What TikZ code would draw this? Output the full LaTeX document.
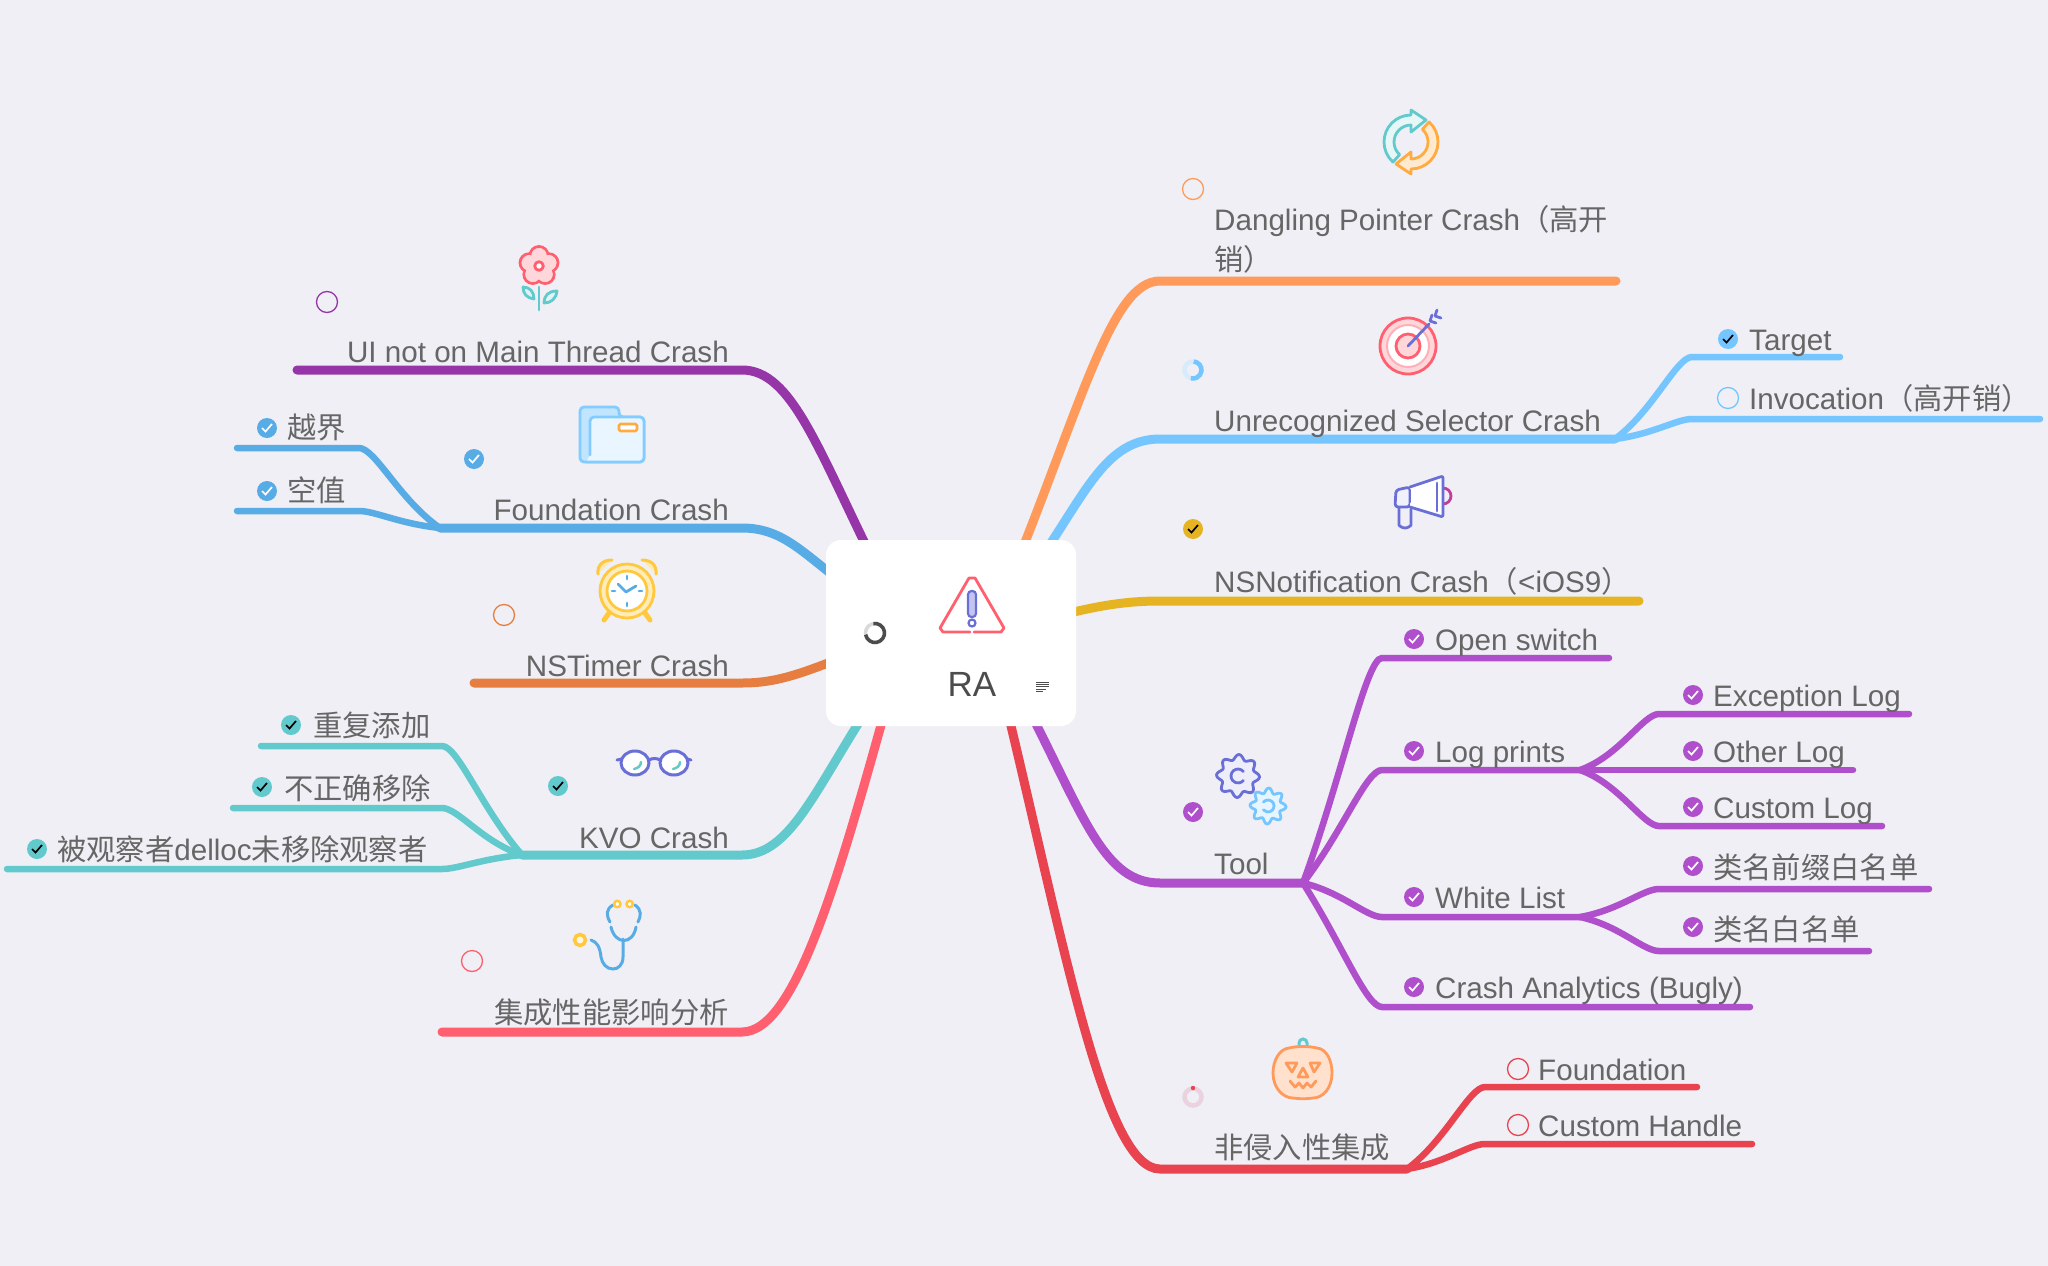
\documentclass[tikz,border=0pt]{standalone}
\usepackage{fontspec}
\setmainfont{Liberation Sans}
\newfontfamily\cjk[Scale=0.99]{Noto Sans CJK SC}
\usetikzlibrary{calc}
\definecolor{bgc}{HTML}{EFEFF5}
\definecolor{txt}{HTML}{666666}
\definecolor{cOr}{HTML}{FF9A5A}
\definecolor{cSky}{HTML}{75C6FF}
\definecolor{cYe}{HTML}{E6B422}
\definecolor{cTo}{HTML}{B04FCB}
\definecolor{cRe}{HTML}{E8434F}
\definecolor{cPu}{HTML}{9535A8}
\definecolor{cBl}{HTML}{58ACE6}
\definecolor{cOd}{HTML}{E67E42}
\definecolor{cTe}{HTML}{62C9CC}
\definecolor{cCo}{HTML}{FF5F6E}
\definecolor{ind}{HTML}{6A6FD8}
\definecolor{amb}{HTML}{FFAB40}
\definecolor{gol}{HTML}{FFC83D}
\definecolor{skytr}{HTML}{D6EBFB}
\definecolor{redtr}{HTML}{EAD3DE}
\tikzset{
  x=1pt,y=-1pt,
  mainbr/.style={line width=9pt,line cap=round,#1},
  subbr/.style={line width=6.5pt,line cap=round,#1},
  lbl/.style={inner sep=0pt,anchor=base west,text=txt,font=\fontsize{29.6}{40}\selectfont},
  lblr/.style={lbl,anchor=base east},
  icon/.style={line width=2.8pt,line cap=round,line join=round},
}
\newcommand{\fan}[5]{\draw[subbr=#1] let \p1=(#2),\p2=(#3) in (\p1) .. controls ({.5*\x1+.5*\x2},{(1-#5)*\y1+#5*\y2}) and ({.2*\x1+.8*\x2},\y2) .. (\p2) -- (#4);}
\newcommand{\mmcheck}[4]{\fill[#3] (#1,#2) circle[radius=10pt];\draw[#4,line width=1.7pt] (#1-5,#2) -- (#1-1.5,#2+3.5) -- (#1+5,#2-4);}
\newcommand{\mmcirc}[3]{\draw[#3,line width=1.3pt] (#1,#2) circle[radius=10.5pt];}
\begin{document}
\begin{tikzpicture}
\useasboundingbox (0,0) rectangle (2048,1266);
\fill[bgc] (0,0) rectangle (2048,1266);
% ---- attachment points
\coordinate (sO) at (1010,580); \coordinate (kO) at (1160,281); \coordinate (eO) at (1616,281);
\coordinate (sS) at (1036,565); \coordinate (kS) at (1160,439); \coordinate (eS) at (1615,439);
\coordinate (sY) at (1050,618); \coordinate (kY) at (1160,601); \coordinate (eY) at (1639,601);
\coordinate (sT) at (1030,712); \coordinate (kT) at (1160,883); \coordinate (eT) at (1303,883);
\coordinate (sR) at (1006,705); \coordinate (kR) at (1160,1169); \coordinate (eR) at (1407,1169);
\coordinate (sP) at (878,570); \coordinate (kP) at (742,370); \coordinate (eP) at (297,370);
\coordinate (sB) at (850,588); \coordinate (kB) at (742,528); \coordinate (eB) at (440,528);
\coordinate (sD) at (860,650); \coordinate (kD) at (742,683); \coordinate (eD) at (474,683);
\coordinate (sE) at (870,705); \coordinate (kE) at (742,855); \coordinate (eE) at (522,855);
\coordinate (sC) at (888,700); \coordinate (kC) at (742,1032); \coordinate (eC) at (442,1032);
% ---- main branches
\draw[mainbr=cOr] (sO) .. controls (1083,400) and (1112,281) .. (kO) -- (eO);
\draw[mainbr=cSky] (sS) .. controls (1085,495) and (1105,439) .. (kS) -- (eS);
\draw[mainbr=cYe] (sY) .. controls (1095,606) and (1125,601) .. (kY) -- (eY);
\draw[mainbr=cTo] (sT) .. controls (1085,820) and (1105,883) .. (kT) -- (eT);
\draw[mainbr=cRe] (sR) .. controls (1065,950) and (1105,1169) .. (kR) -- (eR);
\draw[mainbr=cPu] (sP) .. controls (818,450) and (792,370) .. (kP) -- (eP);
\draw[mainbr=cBl] (sB) .. controls (805,556) and (785,528) .. (kB) -- (eB);
\draw[mainbr=cOd] (sD) .. controls (800,675) and (775,683) .. (kD) -- (eD);
\draw[mainbr=cTe] (sE) .. controls (815,790) and (790,855) .. (kE) -- (eE);
\draw[mainbr=cCo] (sC) .. controls (838,880) and (795,1032) .. (kC) -- (eC);
% ---- sub branches
\coordinate (k1) at (1692,357); \coordinate (e1) at (1840,357);
\coordinate (k2) at (1692,419); \coordinate (e2) at (2040,419);
\fan{cSky}{eS}{k1}{e1}{.35}\fan{cSky}{eS}{k2}{e2}{.25}
\coordinate (k3) at (1382,658); \coordinate (e3) at (1609,658);
\coordinate (k4) at (1382,770); \coordinate (e4) at (1580,770);
\coordinate (k5) at (1382,917); \coordinate (e5) at (1580,917);
\coordinate (k6) at (1382,1007); \coordinate (e6) at (1750,1007);
\fan{cTo}{eT}{k3}{e3}{.48}\fan{cTo}{eT}{k4}{e4}{.45}\fan{cTo}{eT}{k5}{e5}{.28}\fan{cTo}{eT}{k6}{e6}{.5}
\coordinate (k7) at (1659,714); \coordinate (e7) at (1909,714);
\coordinate (k8) at (1659,770); \coordinate (e8) at (1853,770);
\coordinate (k9) at (1659,826); \coordinate (e9) at (1882,826);
\fan{cTo}{e4}{k7}{e7}{.25}\fan{cTo}{e4}{k8}{e8}{.25}\fan{cTo}{e4}{k9}{e9}{.25}
\coordinate (k10) at (1659,889); \coordinate (e10) at (1929,889);
\coordinate (k11) at (1659,951); \coordinate (e11) at (1869,951);
\fan{cTo}{e5}{k10}{e10}{.25}\fan{cTo}{e5}{k11}{e11}{.25}
\coordinate (k12) at (1485,1087); \coordinate (e12) at (1697,1087);
\coordinate (k13) at (1485,1144); \coordinate (e13) at (1752,1144);
\fan{cRe}{eR}{k12}{e12}{.35}\fan{cRe}{eR}{k13}{e13}{.25}
\coordinate (k14) at (359,448); \coordinate (e14) at (237,448);
\coordinate (k15) at (359,511); \coordinate (e15) at (237,511);
\fan{cBl}{eB}{k14}{e14}{.35}\fan{cBl}{eB}{k15}{e15}{.25}
\coordinate (k16) at (442,746); \coordinate (e16) at (261,746);
\coordinate (k17) at (442,808); \coordinate (e17) at (233,808);
\coordinate (k18) at (442,869); \coordinate (e18) at (7,869);
\fan{cTe}{eE}{k16}{e16}{.42}\fan{cTe}{eE}{k17}{e17}{.28}\fan{cTe}{eE}{k18}{e18}{.25}
% ---- root
\node[fill=white,rounded corners=15pt,minimum width=250pt,minimum height=186pt,inner sep=0pt] (root) at (951,633) {};
\node[inner sep=0pt,anchor=base,text=black!70,font=\fontsize{35}{35}\selectfont] (rootl) at (972,696) {RA};
% warning icon
\draw[cCo,icon] (970,632) -- (943,632) -- (940,628) -- (969,578) -- (975,578) -- (1004,628) -- (1001,632) -- (974,632);
\draw[ind,fill=ind!40,line width=2.2pt,rounded corners=3.5pt] (968,591) rectangle (976,617);
\draw[ind,line width=2.2pt] (972,623) circle[radius=3.5pt];
% progress + notes
\draw[black!15,line width=3.5pt] (875,633) circle[radius=9.5pt];
\draw[black!70,line width=3.5pt] (875,633) ++(100:9.5pt) arc[start angle=100,end angle=-170,radius=9.5pt];
\foreach \yy/\xx in {682/1049,684.3/1049,686.6/1049,689/1046,691.3/1043}{\draw[black!70,line width=.9pt] (1036,\yy) -- (\xx,\yy);}
% ---- labels
\node[lbl,align=left] (tO) at (1214,270) {Dangling Pointer Crash{\cjk （高开}\\{\cjk 销）}};
\node[lbl] (tS) at (1214,431) {Unrecognized Selector Crash};
\node[lbl] (tY) at (1214,592) {NSNotification Crash{\cjk （}<iOS9{\cjk ）}};
\node[lbl] (tT) at (1214,874) {Tool};
\node[lbl] (tR) at (1214,1158) {\cjk 非侵入性集成};
\node[lbl] (t1) at (1749,350) {Target};
\node[lbl] (t2) at (1749,409) {Invocation{\cjk （高开销）}};
\node[lbl] (t3) at (1435,650) {Open switch};
\node[lbl] (t4) at (1435,762) {Log prints};
\node[lbl] (t5) at (1435,908) {White List};
\node[lbl] (t6) at (1435,998) {Crash Analytics (Bugly)};
\node[lbl] (t7) at (1713,706) {Exception Log};
\node[lbl] (t8) at (1713,762) {Other Log};
\node[lbl] (t9) at (1713,818) {Custom Log};
\node[lbl] (t10) at (1713,878) {\cjk 类名前缀白名单};
\node[lbl] (t11) at (1713,940) {\cjk 类名白名单};
\node[lbl] (t12) at (1538,1080) {Foundation};
\node[lbl] (t13) at (1538,1136) {Custom Handle};
\node[lblr] (tP) at (729,362) {UI not on Main Thread Crash};
\node[lblr] (tB) at (729,520) {Foundation Crash};
\node[lblr] (tD) at (729,676) {NSTimer Crash};
\node[lblr] (tE) at (729,848) {KVO Crash};
\node[lblr] (tC) at (729,1023) {\cjk 集成性能影响分析};
\node[lbl] (t14) at (287,438) {\cjk 越界};
\node[lbl] (t15) at (287,501) {\cjk 空值};
\node[lbl] (t16) at (313,736) {\cjk 重复添加};
\node[lbl] (t17) at (284,799) {\cjk 不正确移除};
\node[lbl] (t18) at (57,860) {{\cjk 被观察者}delloc{\cjk 未移除观察者}};
% ---- status marks
\mmcirc{1193}{189}{cOr}
\draw[skytr,line width=4.5pt] (1193,370) circle[radius=8.5pt];
\draw[cSky,line width=4.5pt] (1193,370) ++(85:8.5pt) arc[start angle=85,end angle=-105,radius=8.5pt];
\mmcheck{1193}{529}{cYe}{black}
\mmcheck{1193}{812}{cTo}{white}
\draw[redtr,line width=4.5pt] (1193,1097) circle[radius=8.5pt];
\fill[cRe] (1193,1088) circle[radius=2.2pt];
\mmcheck{1728}{339}{cSky}{black}
\mmcirc{1728}{398}{cSky}
\mmcheck{1414}{639}{cTo}{white}
\mmcheck{1414}{751}{cTo}{white}
\mmcheck{1414}{897}{cTo}{white}
\mmcheck{1414}{987}{cTo}{white}
\mmcheck{1693}{695}{cTo}{white}
\mmcheck{1693}{751}{cTo}{white}
\mmcheck{1693}{807}{cTo}{white}
\mmcheck{1693}{866}{cTo}{white}
\mmcheck{1693}{927}{cTo}{white}
\mmcirc{1518}{1069}{cRe}
\mmcirc{1518}{1125}{cRe}
\mmcirc{327}{302}{cPu}
\mmcheck{474}{459}{cBl}{white}
\mmcirc{504}{615}{cOd}
\mmcheck{558}{786}{cTe}{black}
\mmcirc{472}{961}{cCo}
\mmcheck{267}{428}{cBl}{white}
\mmcheck{267}{491}{cBl}{white}
\mmcheck{291}{725}{cTe}{black}
\mmcheck{262}{787}{cTe}{black}
\mmcheck{37}{849}{cTe}{black}
% ---- recycle icon
\begin{scope}[shift={(1411,142)}]
\foreach \rr/\cc/\ff in {0/cTe/cTe!15,180/amb/amb!25}{
\begin{scope}[rotate=\rr]
\draw[\cc,fill=\ff,icon] (0,-27) arc[start angle=90,end angle=228,radius=27pt] -- ++(6.7,-7.4) arc[start angle=228,end angle=90,radius=17pt] -- (0,-10) -- (15,-22) -- (0,-32) -- cycle;
\end{scope}}
\end{scope}
% ---- target icon
\begin{scope}[shift={(1408,346)}]
\draw[cCo,fill=cCo!25,icon] (0,0) circle[radius=28pt];
\draw[cCo!50,fill=white,line width=2pt] (0,0) circle[radius=21pt];
\draw[cCo,fill=cCo!25,icon] (0,0) circle[radius=12pt];
\draw[ind,icon] (0,0) -- (21,-22);
\draw[ind,icon] (24,-31) -- (22,-25) -- (28,-23);
\draw[ind,icon] (29,-36) -- (27,-30) -- (33,-28);
\end{scope}
% ---- megaphone icon
\begin{scope}[shift={(1423,500)}]
\draw[icon,color=magenta!60!ind] (20,-12) arc[start angle=90,end angle=-90,radius=8pt];
\draw[ind,icon,rounded corners=3pt] (-24,7) -- (-24,22) arc[start angle=180,end angle=360,radius=6pt] -- (-12,9);
\draw[ind,fill=ind!10,icon,rounded corners=3pt] (-13,-13) -- (-27,-10) -- (-28,7) -- (-13,7) -- cycle;
\draw[ind,fill=white,icon,rounded corners=2pt] (-13,-13) -- (20,-24) -- (20,17) -- (-13,7);
\draw[ind,icon] (14,-17) -- (14,11);
\draw[ind,icon] (-13,-10) -- (-13,2);
\end{scope}
% ---- flower icon
\begin{scope}[shift={(539,266)}]
\foreach \a in {90,162,234,306,18}{\draw[cCo,icon,fill=cCo!25] (\a:10.5pt) circle[radius=9pt];}
\foreach \a in {90,162,234,306,18}{\fill[cCo!25] (\a:10pt) circle[radius=7.8pt];}
\fill[cCo!25] (0,0) circle[radius=9pt];
\draw[cCo,fill=white,icon] (0,0) circle[radius=4.3pt];
\draw[cTe,icon] (0,21) -- (0,44);
\draw[cTe,icon,fill=cTe!20] (-16,21) .. controls (-16,28) and (-12,32) .. (-5,33) .. controls (-5,26) and (-9,21) .. cycle;
\draw[cTe,icon,fill=cTe!20] (18,25) .. controls (9,25) and (5,30) .. (5,37) .. controls (12,37) and (17,33) .. cycle;
\end{scope}
% ---- folder icon
\begin{scope}[shift={(612,435)}]
\draw[cSky!90,fill=cSky!45,icon,rounded corners=4pt] (-32,27) -- (-32,-28) -- (7,-28) -- (7,-18) -- (32,-18) -- (32,27) -- cycle;
\draw[cSky!90,fill=cSky!15,icon,rounded corners=4pt] (-22,20) -- (-22,-18) -- (32,-18) -- (32,27) -- (-26,27);
\draw[amb,fill=white,icon,rounded corners=1.5pt] (7,-11) rectangle (25,-4);
\end{scope}
% ---- clock icon
\begin{scope}[shift={(627,591)}]
\draw[gol,line width=5pt,line cap=round] (-18,22) -- (-23,29);
\draw[gol,line width=5pt,line cap=round] (18,22) -- (23,29);
\draw[gol,line width=3pt,line cap=round,fill=gol!40] (-29,-17) .. controls (-30,-26) and (-24,-31) .. (-15,-31);
\draw[gol,line width=3pt,line cap=round,fill=gol!40] (29,-17) .. controls (30,-26) and (24,-31) .. (15,-31);
\draw[gol,fill=gol!35,icon] (0,0) circle[radius=27pt];
\draw[gol,fill=white,icon] (0,0) circle[radius=20pt];
\foreach \a/\b/\c/\d in {0/-15/0/-12, 0/15/0/12, -15/0/-12/0, 15/0/12/0}{\draw[cBl,icon] (\a,\b) -- (\c,\d);}
\draw[cBl,icon] (-9,-7) -- (-1,1) -- (9,-5);
\end{scope}
% ---- glasses icon
\begin{scope}[shift={(654,762)}]
\draw[ind,fill=white,line width=3pt] (-19,1) ellipse[x radius=14pt,y radius=12pt];
\draw[ind,fill=white,line width=3pt] (20,1) ellipse[x radius=14pt,y radius=12pt];
\draw[ind,line width=3pt,line cap=round] (-37,-2) -- (-32,-3);
\draw[ind,line width=3pt,line cap=round] (37,-2) -- (33,-3);
\draw[ind,line width=3pt] (-5,-2) .. controls (-2,-4) and (3,-4) .. (6,-2);
\draw[cTe,line width=2.5pt,line cap=round] (-13,0) .. controls (-13,4) and (-16,6) .. (-20,7);
\draw[cTe,line width=2.5pt,line cap=round] (26,0) .. controls (26,4) and (23,6) .. (19,7);
\end{scope}
% ---- stethoscope icon
\begin{scope}[shift={(623,937)}]
\draw[cBl,line width=3pt,line cap=round] (-10,-32) .. controls (-17,-28) and (-17,-22) .. (-13,-15);
\draw[cBl,line width=3pt,line cap=round] (12,-32) .. controls (19,-27) and (18,-21) .. (15,-15);
\draw[cBl,line width=3pt,line cap=round] (-12,-10) .. controls (-8,8) and (10,8) .. (13,-10);
\draw[cBl,line width=3pt,line cap=round] (0,2) -- (0,20) .. controls (0,28) and (-5,32) .. (-10,32) .. controls (-17,32) and (-21,26) .. (-22,20) .. controls (-23,10) and (-26,5) .. (-32,3);
\draw[gol,fill=white,line width=2.5pt] (-5.7,-33) circle[radius=3.2pt];
\draw[gol,fill=white,line width=2.5pt] (6.7,-33) circle[radius=3.2pt];
\draw[gol,fill=gol!15,line width=3.5pt] (-43,3) circle[radius=5.5pt];
\end{scope}
% ---- gears icon
\begin{scope}[shift={(1238,776)}]
\draw[ind,fill=ind!12,icon] plot[domain=0:360,samples=97,smooth] ({\x}:{(19+2.5*cos(8*\x+22))*1pt}) -- cycle;
\draw[ind,icon] (40:7pt) arc[start angle=40,end angle=320,radius=7pt];
\end{scope}
\begin{scope}[shift={(1268,806)}]
\draw[cSky,fill=cSky!18,icon] plot[domain=0:360,samples=97,smooth] ({\x}:{(15.5+2.5*cos(8*\x+22))*1pt}) -- cycle;
\draw[cSky,icon] (140:6pt) arc[start angle=140,end angle=-140,radius=6pt];
\end{scope}
% ---- pumpkin icon
\begin{scope}[shift={(1303,1073)}]
\draw[cTe,line width=3pt] (-4,-25) -- (-4,-30) arc[start angle=180,end angle=0,radius=4pt] -- (4,-25);
\draw[cOr,fill=cOr!30,icon] (-14,-25) .. controls (-6,-27) and (6,-27) .. (14,-25) .. controls (24,-24) and (29,-12) .. (29,0) .. controls (29,15) and (20,25) .. (10,25) .. controls (4,26) and (-4,26) .. (-10,25) .. controls (-20,25) and (-30,15) .. (-30,0) .. controls (-30,-12) and (-24,-24) .. (-14,-25) -- cycle;
\draw[cOr,icon] (-17,-10) -- (-6,-10) -- (-11,-1) -- cycle;
\draw[cOr,icon] (7,-10) -- (17,-10) -- (11,-1) -- cycle;
\draw[cOr,icon] (0,-5) -- (-5,4) -- (5,4) -- cycle;
\draw[cOr,icon] (-13,8) -- (-8,14) -- (-4,10) -- (0,15) -- (4,10) -- (8,14) -- (13,8);
\end{scope}
\end{tikzpicture}
\end{document}
